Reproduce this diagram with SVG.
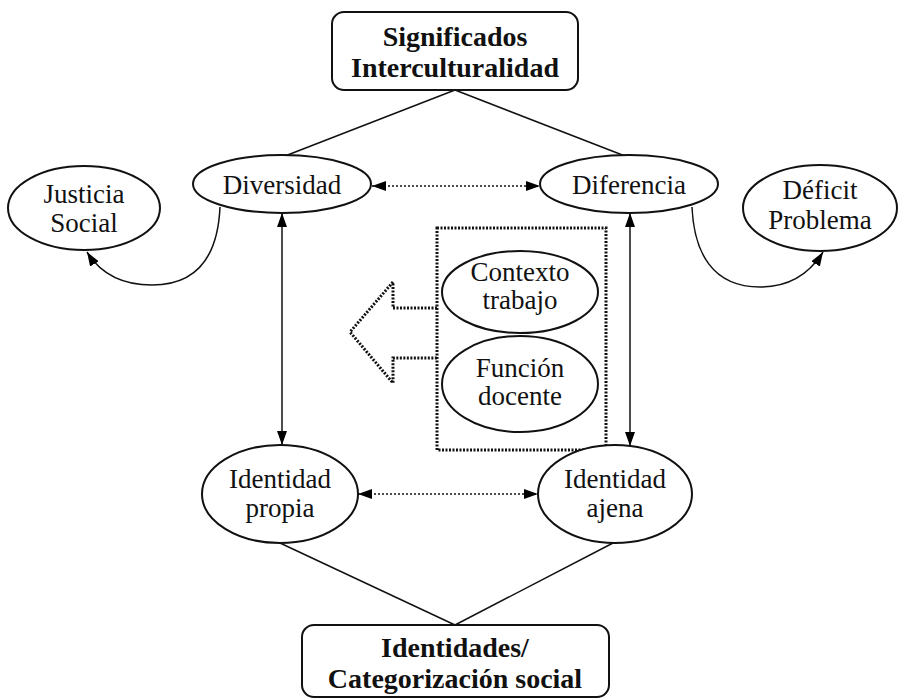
<svg xmlns="http://www.w3.org/2000/svg" width="901" height="700" viewBox="0 0 901 700">
<defs>
<marker id="ah" viewBox="0 0 14 10" markerWidth="14" markerHeight="10" refX="14" refY="5" orient="auto-start-reverse" markerUnits="userSpaceOnUse">
<path d="M0,0 L14,5 L0,10 z" fill="#000"/>
</marker>
<style>
.n{fill:#fff;stroke:#111;stroke-width:2}
.t{font-family:"Liberation Serif","Times New Roman",serif;font-size:27px;fill:#111;text-anchor:middle}
.b{font-family:"Liberation Serif","Times New Roman",serif;font-size:28px;font-weight:bold;fill:#111;text-anchor:middle}
.l{fill:none;stroke:#111;stroke-width:1.5}
.d{fill:none;stroke:#111;stroke-width:1.5;stroke-dasharray:2 2}
.dd{fill:none;stroke:#111;stroke-width:3;stroke-dasharray:2 1.5}
</style>
</defs>
<rect width="901" height="700" fill="#fff"/>
<g id="connectors">
<line class="l" x1="455" y1="90" x2="285" y2="156"/>
<line class="l" x1="455" y1="90" x2="625" y2="156"/>
<line class="l" x1="280" y1="543" x2="455" y2="625"/>
<line class="l" x1="613" y1="543" x2="455" y2="625"/>
<line class="d" x1="372" y1="186" x2="540" y2="186" marker-start="url(#ah)" marker-end="url(#ah)"/>
<line class="d" x1="358" y1="494" x2="538" y2="494" marker-start="url(#ah)" marker-end="url(#ah)"/>
<line class="l" x1="282" y1="213" x2="282" y2="445" marker-start="url(#ah)" marker-end="url(#ah)"/>
<line class="l" x1="630" y1="213" x2="630" y2="446" marker-start="url(#ah)" marker-end="url(#ah)"/>
<path class="l" d="M220,207 C218,252 200,285 152,285 C122,285 100,273 87,252" marker-end="url(#ah)"/>
<path class="l" d="M692,207 C694,252 712,287 760,287 C790,287 810,273 823,252" marker-end="url(#ah)"/>
<path class="dd" d="M437,308 L393,308 L393,282 L350,332 L393,383 L393,358 L437,358"/>
</g>
<g id="top">
<rect class="n" x="332" y="12" width="246" height="78" rx="12"/>
<text class="b" x="455" y="46">Significados</text>
<text class="b" x="455" y="77">Interculturalidad</text>
</g>
<g id="justicia">
<ellipse class="n" cx="84" cy="208" rx="76" ry="42"/>
<text class="t" x="84" y="203">Justicia</text>
<text class="t" x="84" y="232">Social</text>
</g>
<g id="diversidad">
<ellipse class="n" cx="282" cy="184" rx="89" ry="29"/>
<text class="t" x="282" y="194">Diversidad</text>
</g>
<g id="diferencia">
<ellipse class="n" cx="629" cy="184" rx="89" ry="29"/>
<text class="t" x="629" y="194">Diferencia</text>
</g>
<g id="deficit">
<ellipse class="n" cx="820" cy="208" rx="77" ry="43"/>
<text class="t" x="820" y="199">Déficit</text>
<text class="t" x="820" y="229">Problema</text>
</g>
<g id="contexto-box">
<rect class="dd" x="437" y="228" width="169" height="222"/>
</g>
<g id="contexto">
<ellipse class="n" cx="520" cy="292" rx="78" ry="41"/>
<text class="t" x="520" y="281">Contexto</text>
<text class="t" x="520" y="309">trabajo</text>
</g>
<g id="funcion">
<ellipse class="n" cx="520" cy="384" rx="78" ry="48"/>
<text class="t" x="520" y="377">Función</text>
<text class="t" x="520" y="405">docente</text>
</g>
<g id="propia">
<ellipse class="n" cx="280" cy="494" rx="78" ry="49"/>
<text class="t" x="280" y="488">Identidad</text>
<text class="t" x="280" y="517">propia</text>
</g>
<g id="ajena">
<ellipse class="n" cx="615" cy="494" rx="77" ry="49"/>
<text class="t" x="615" y="488">Identidad</text>
<text class="t" x="615" y="517">ajena</text>
</g>
<g id="bottom">
<rect class="n" x="302" y="625" width="307" height="72" rx="12"/>
<text class="b" x="455" y="657">Identidades/</text>
<text class="b" x="455" y="688">Categorización social</text>
</g>
</svg>
